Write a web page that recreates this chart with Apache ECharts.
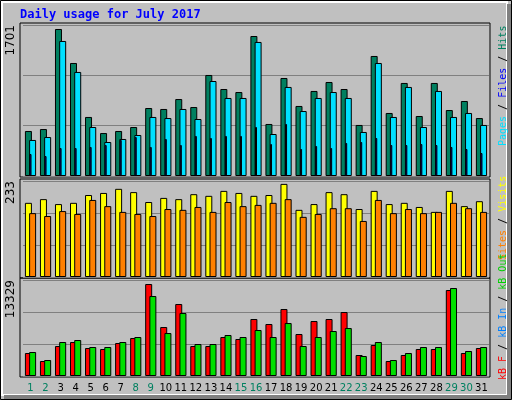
<!DOCTYPE html>
<html>
<head>
<meta charset="utf-8">
<script src="https://cdn.jsdelivr.net/npm/echarts@6/dist/echarts.min.js"></script>
<style>html,body{margin:0;padding:0;background:#c0c0c0}#runChart{width:512px;height:400px}</style>
</head>
<body>
<div id="runChart"></div>
<script>
let days = ["1","2","3","4","5","6","7","8","9","10","11","12","13","14","15","16","17","18","19","20","21","22","23","24","25","26","27","28","29","30","31"];
let weekend = ["1","2","8","9","15","16","22","23","29","30"];
let hits = [507, 529, 1656, 1273, 665, 484, 507, 552, 766, 755, 867, 777, 1138, 980, 946, 1577, 586, 1104, 789, 958, 1059, 980, 575, 1352, 710, 1048, 676, 1048, 743, 845, 653];
let files = [406, 439, 1521, 1172, 552, 383, 417, 462, 665, 653, 755, 642, 1070, 879, 879, 1510, 473, 1003, 732, 879, 946, 879, 496, 1273, 665, 1003, 552, 958, 665, 710, 575];
let pages = [248, 225, 315, 315, 327, 349, 406, 439, 327, 417, 349, 451, 428, 451, 451, 552, 360, 586, 304, 338, 315, 372, 383, 428, 349, 349, 360, 349, 327, 304, 259];
let visits = [180, 189, 177, 180, 199, 204, 214, 206, 182, 192, 189, 201, 197, 209, 204, 197, 199, 226, 163, 177, 206, 201, 165, 209, 177, 180, 170, 158, 209, 172, 184];
let sites = [155, 148, 160, 153, 187, 172, 158, 153, 148, 165, 163, 170, 158, 182, 172, 175, 180, 189, 146, 153, 167, 167, 136, 187, 155, 165, 155, 158, 180, 167, 158];
let kbF = [3192, 2082, 4164, 4719, 3886, 3748, 4580, 5274, 12770, 6801, 9994, 4164, 4164, 5413, 5136, 7912, 7218, 9300, 5830, 7634, 7912, 8883, 2915, 4303, 2082, 2915, 3748, 3748, 11937, 3192, 3886];
let kbOut = [3331, 2221, 4719, 4997, 4025, 4025, 4719, 5413, 11104, 5968, 8744, 4442, 4442, 5691, 5413, 6385, 5413, 7356, 4164, 5413, 6246, 6662, 2776, 4719, 2221, 3192, 4025, 4025, 12214, 3470, 4025];
let maxes = [1701, 233, 13329];

let grids = [
  { left: 23, right: 23, top: 25, height: 151 },
  { left: 23, right: 23, top: 181, height: 96 },
  { left: 23, right: 23, top: 280, height: 96 }
];

function xAx(gi, showLabels) {
  return {
    type: "category", gridIndex: gi, data: days,
    axisLine: { show: false }, axisTick: { show: false },
    axisLabel: {
      show: showLabels, interval: 0, margin: 7, fontSize: 10, fontFamily: "DejaVu Sans",
      color: function (v) { return weekend.indexOf(v) >= 0 ? "#008060" : "#000"; }
    }
  };
}
function yAx(gi) {
  let m = maxes[gi];
  return {
    type: "value", gridIndex: gi, min: 0, max: m, interval: m / 3,
    axisLine: { show: false }, axisTick: { show: false },
    splitLine: { lineStyle: { color: "#808080", width: 1 } },
    axisLabel: {
      rotate: 90, align: "right", margin: 6, fontSize: 12, fontFamily: "DejaVu Sans", color: "#000",
      formatter: function (v) { return Math.abs(v - m) < 0.01 ? String(m) : ""; }
    }
  };
}
function bar(name, data, xi, yi, color, w, gap) {
  let s = {
    name: name, type: "bar", xAxisIndex: xi, yAxisIndex: yi, data: data, barWidth: w,
    itemStyle: { color: color, borderColor: "#000", borderWidth: 1 }, animation: false
  };
  if (gap !== undefined) s.barGap = gap;
  return s;
}

function frame(g) {
  return {
    type: "rect", shape: { x: 20, y: g.top - 2, width: 470, height: g.height + 3 },
    style: { fill: "none", stroke: "#000", lineWidth: 1 }, z: -1
  };
}
let sideFont = "10px DejaVu Sans Mono";
function sideText(y, parts) {
  let colors = { c: "#00e0ff", b: "#0000ff", g: "#008060", k: "#000", o: "#ff8000", y: "#ffff00", r: "#ff0000", l: "#0080ff", n: "#00d000" };
  let rich = {};
  Object.keys(colors).forEach(function (k) { rich[k] = { fill: colors[k], font: sideFont }; });
  return {
    type: "text", x: 498, y: y, rotation: Math.PI / 2,
    style: {
      text: parts.map(function (p) { return "{" + p[0] + "|" + p[1] + "}"; }).join(""),
      font: sideFont, rich: rich
    }
  };
}

let option = {
  backgroundColor: "#c0c0c0",
  animation: false,
  grid: grids,
  xAxis: [xAx(0, false), xAx(1, false), xAx(2, true), xAx(0, false)],
  yAxis: [yAx(0), yAx(1), yAx(2)],
  series: [
    bar("Hits", hits, 0, 0, "#008060", 7),
    bar("Files", files, 0, 0, "#00e0ff", 7, "-40%"),
    bar("Pages", pages, 3, 0, "#0000ff", 2),
    bar("Visits", visits, 1, 1, "#ffff00", 7),
    bar("Sites", sites, 1, 1, "#ff8000", 7, "-40%"),
    bar("kB F", kbF, 2, 2, "#ff0000", 7),
    bar("kB Out", kbOut, 2, 2, "#00e000", 7, "-40%")
  ],
  graphic: [
    { type: "rect", shape: { x: 0.5, y: 0.5, width: 511, height: 399 }, style: { fill: "none", stroke: "#000", lineWidth: 1 }, z: -2 },
    { type: "rect", shape: { x: 2, y: 2, width: 505, height: 393 }, style: { fill: "none", stroke: "#fff", lineWidth: 2 }, z: -2 },
    { type: "rect", shape: { x: 507, y: 4, width: 4, height: 395 }, style: { fill: "#808080" }, z: -2 },
    { type: "rect", shape: { x: 4, y: 395, width: 507, height: 4 }, style: { fill: "#808080" }, z: -2 },
    frame(grids[0]), frame(grids[1]), frame(grids[2]),
    { type: "text", x: 20, y: 9, style: { text: "Daily usage for July 2017", font: "bold 12px DejaVu Sans Mono", fill: "#0000ff" } },
    sideText(146, [["c", "Pages"], ["k", " / "], ["b", "Files"], ["k", " / "], ["g", "Hits"]]),
    sideText(260, [["o", "Sites"], ["k", " / "], ["y", "Visits"]]),
    sideText(380, [["r", "kB F"], ["k", " / "], ["l", "kB In"], ["k", " / "], ["n", "kB Out"]])
  ]
};

var myChart = echarts.init(document.getElementById("runChart"));
myChart.setOption(option);
</script>
</body>
</html>
